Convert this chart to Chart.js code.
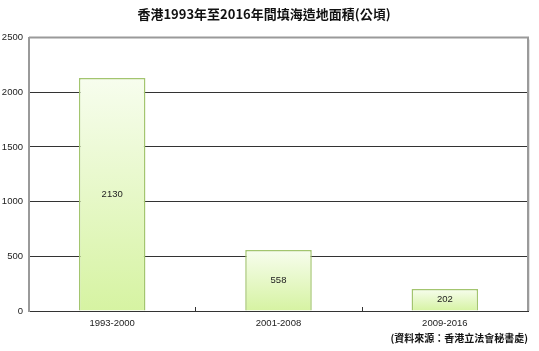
<!DOCTYPE html>
<html>
<head>
<meta charset="utf-8">
<script src="https://cdn.jsdelivr.net/npm/chart.js@4"></script>
<style>
html,body{margin:0;padding:0;background:#fff;}
#wrap{width:539px;height:351px;position:relative;}
</style>
</head>
<body>
<div id="wrap"><canvas id="c" width="539" height="351"></canvas></div>
<script>
const categories = ['1993-2000', '2001-2008', '2009-2016'];
const areaHectares = [2130, 558, 202];
const yTicks = [0, 500, 1000, 1500, 2000, 2500];
const titleText = '香港1993年至2016年間填海造地面積(公頃)';
const sourceText = '(資料來源：香港立法會秘書處)';

const numFont = {family: '"Liberation Sans", "DejaVu Sans", sans-serif', size: 9.5};

function barFill(context) {
  const chart = context.chart;
  const yScale = chart.scales.y;
  if (!chart.chartArea || !yScale || context.dataIndex === undefined) return '#e6f8c8';
  const v = context.dataset.data[context.dataIndex];
  const top = yScale.getPixelForValue(v);
  const base = yScale.getPixelForValue(0);
  if (!isFinite(top) || !isFinite(base) || top === base) return '#e6f8c8';
  const g = chart.ctx.createLinearGradient(0, top, 0, base);
  g.addColorStop(0, '#f7fdee');
  g.addColorStop(1, '#d6f3a2');
  return g;
}

const barLabels = {
  id: 'barLabels',
  afterDatasetDraw(chart, args) {
    const ctx = chart.ctx;
    ctx.save();
    ctx.font = '9.5px ' + numFont.family;
    ctx.fillStyle = '#222';
    ctx.textAlign = 'center';
    ctx.textBaseline = 'middle';
    args.meta.data.forEach((el, i) => {
      ctx.fillText(String(areaHectares[i]), el.x, (el.y + el.base) / 2);
    });
    ctx.restore();
  }
};

const frame = {
  id: 'frame',
  afterDraw(chart) {
    const {ctx, chartArea: a, scales} = chart;
    ctx.save();
    ctx.strokeStyle = '#9a9a9a';
    ctx.lineWidth = 2;
    ctx.beginPath();
    ctx.moveTo(a.left, a.top);
    ctx.lineTo(a.right, a.top);
    ctx.lineTo(a.right, a.bottom);
    ctx.stroke();
    ctx.strokeStyle = '#e2e2e2';
    ctx.lineWidth = 1;
    ctx.beginPath();
    ctx.moveTo(a.right + 1.5, a.top + 2);
    ctx.lineTo(a.right + 1.5, a.bottom);
    ctx.stroke();
    const x = scales.x;
    ctx.strokeStyle = '#333';
    ctx.lineWidth = 1;
    for (let i = 1; i < categories.length; i++) {
      const px = Math.round((x.getPixelForValue(i - 1) + x.getPixelForValue(i)) / 2) + 0.5;
      ctx.beginPath();
      ctx.moveTo(px, a.bottom);
      ctx.lineTo(px, a.bottom - 4);
      ctx.stroke();
    }
    ctx.restore();
  }
};

new Chart(document.getElementById('c'), {
  type: 'bar',
  data: {
    labels: categories,
    datasets: [{
      data: areaHectares,
      backgroundColor: barFill,
      borderColor: '#a3c56f',
      borderWidth: 1.5,
      barPercentage: 0.4,
      categoryPercentage: 1.0
    }]
  },
  options: {
    responsive: false,
    animation: false,
    devicePixelRatio: 1,
    layout: {padding: {left: 0, right: 11, top: 0, bottom: 0}},
    plugins: {
      legend: {display: false},
      tooltip: {enabled: false},
      title: {
        display: true,
        text: titleText,
        color: '#111',
        font: {family: '"Noto Sans CJK TC", sans-serif', size: 13, weight: 'bold', lineHeight: 1.2},
        padding: {top: 6, bottom: 16}
      },
      subtitle: {
        display: true,
        text: sourceText,
        position: 'bottom',
        align: 'end',
        color: '#111',
        font: {family: '"Noto Sans CJK TC", sans-serif', size: 10, weight: 'bold', lineHeight: 1.2},
        padding: {top: 1, bottom: 7}
      }
    },
    scales: {
      x: {
        grid: {display: false, drawTicks: false},
        border: {color: '#333', width: 1},
        ticks: {color: '#222', font: numFont, padding: 7, maxRotation: 0},
        afterFit(s) { s.height = 20; }
      },
      y: {
        min: 0,
        max: 2500,
        afterBuildTicks(s) { s.ticks = yTicks.map(v => ({value: v})); },
        grid: {
          drawTicks: false,
          color: c => (c.tick && c.tick.value === 2500) ? 'rgba(0,0,0,0)' : '#333'
        },
        border: {color: '#9a9a9a', width: 2},
        ticks: {color: '#222', font: numFont, padding: 6, callback: v => String(v)},
        afterFit(s) { s.width = 29; }
      }
    }
  },
  plugins: [barLabels, frame]
});
</script>
</body>
</html>
